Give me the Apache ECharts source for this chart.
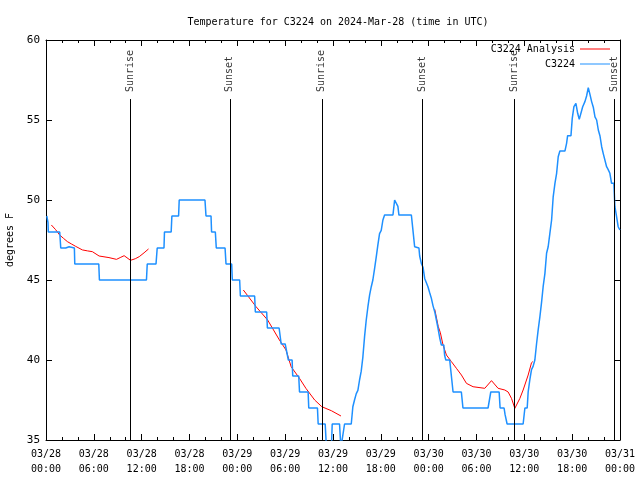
<!DOCTYPE html>
<html><head><meta charset="utf-8">
<script src="https://cdn.jsdelivr.net/npm/echarts@6/dist/echarts.min.js"></script>
<style>html,body{margin:0;padding:0;background:#fff}#c{width:640px;height:480px}</style>
</head><body><div id="c"></div>
<script>
// Station observations (hours since 03/28 00:00 UTC, degrees F)
const stationHours = [0.1,0.25,0.29,1.72,1.85,2.47,2.5,2.9,2.95,3.56,3.61,6.62,6.7,12.6,12.7,13.8,13.95,14.8,14.86,15.7,15.79,16.63,16.71,19.94,20.07,20.7,20.77,21.24,21.36,22.46,22.58,23.29,23.37,24.29,24.38,26.17,26.26,27.68,27.77,29.24,29.5,30.0,30.1,30.4,30.87,30.95,31.7,31.8,32.88,32.96,34.05,34.14,35.02,35.18,35.8,35.9,36.82,36.99,37.23,37.45,38.29,38.49,38.7,38.92,39.12,39.33,39.54,39.75,39.96,40.17,40.38,40.59,40.8,41.0,41.22,41.43,41.63,41.84,42.05,42.26,42.47,43.52,43.73,43.94,44.14,44.27,45.83,46.03,46.24,46.78,46.87,47.08,47.29,47.5,47.71,47.91,48.13,48.34,48.54,48.76,48.97,49.17,49.38,49.59,49.9,50.0,50.15,50.64,50.85,51.06,52.1,52.3,55.45,55.79,56.84,56.96,57.46,57.58,57.84,59.85,60.07,60.36,60.48,60.7,60.9,61.1,61.32,61.53,61.74,61.95,62.16,62.36,62.58,62.79,62.99,63.2,63.42,63.62,63.84,64.05,64.25,64.46,65.09,65.3,65.43,65.85,66.01,66.22,66.47,66.69,66.89,67.1,67.32,67.6,67.81,68.02,68.23,68.44,68.65,68.86,69.07,69.28,69.49,69.7,69.9,70.1,70.32,70.52,70.73,70.94,71.23,71.36,71.57,71.77,71.98];
const stationTemps = [49,48.6,48,48,47,47,47.08,47.08,47,47,46,46,45,45,46,46,47,47,48,48,49,49,50,50,49,49,48,48,47,47,46,46,45,45,44,44,43,43,42,42,41,41,40.75,40,40,39,39,38,38,37,37,36,36,34.5,34.5,36,36,34.5,34.5,36,36,37.08,37.5,37.9,38.1,38.75,39.3,40.2,41.46,42.5,43.33,44.06,44.58,45,45.73,46.46,47.2,47.9,48.1,48.75,49.06,49.06,50,50.04,49.6,49.06,49.06,48.1,47.08,47,46.5,46.04,45.8,45.1,45,44.58,44.2,43.85,43.4,43.02,42.5,42,41.4,40.94,40.94,40.3,40,40,39,38,38,37,37,38,38,37,37,36.6,36,36,37,37,38,38.8,39.4,39.6,40,41,41.9,42.7,43.6,44.58,45.4,46.67,47.08,47.9,48.75,50.2,51.04,51.67,52.7,53.06,53.06,53.54,54.02,54.02,55.1,55.83,56.04,55.42,55.04,55.04,55.83,56.15,56.5,57.02,56.6,56.15,55.8,55.2,55.0,54.375,54.0,53.33,52.9,52.8,52.08,51.9,51.67,51.04,51.04,49.58,48.96,48.33,48.125];

// Analysis (three separate runs, null = gap)
const analysisHours = [0.67,1.2,1.72,2.2,2.68,3.2,3.73,4.56,5.2,5.82,6.66,7.9,8.84,9.3,9.8,10.6,11.2,11.7,12.3,12.86,null,
  24.75,25.3,26.35,27.8,29.28,30.1,30.75,31.8,32.6,33.7,34.6,35.8,37.0,null,
  48.76,49.2,49.47,49.8,50.23,50.85,51.48,52.11,52.74,53.57,55.04,55.88,56.71,57.55,57.97,58.39,58.81,59.02,59.44,59.85,60.48,60.9,61.07];
const analysisTemps = [48.44,48.15,47.81,47.6,47.4,47.25,47.1,46.88,46.82,46.77,46.5,46.4,46.29,46.4,46.52,46.23,46.33,46.46,46.7,46.94,null,
  44.375,44.02,43.33,42.5,41.25,40.63,39.58,38.85,38.23,37.5,37.08,36.83,36.5,null,
  43.17,42.1,41.7,40.94,40.31,39.9,39.48,39.06,38.54,38.33,38.23,38.71,38.23,38.125,38.0,37.6,36.98,37.0,37.6,38.125,39.06,39.83,39.9];

// Sunrise / sunset events
const eventHours = [10.56,23.06,34.59,47.16,58.72,71.25];
const eventNames = ['Sunrise','Sunset','Sunrise','Sunset','Sunrise','Sunset'];

const xTickDays = ['03/28','03/29','03/30','03/31'];

const MONO = '"DejaVu Sans Mono", monospace';
function pad(n){return (n<10?'0':'')+n;}

const blueData = stationHours.map((h,i)=>[h, stationTemps[i]]);
const redData = analysisHours.map((h,i)=> h==null ? ['-','-'] : [h, analysisTemps[i]]);

const chart = echarts.init(document.getElementById('c'), null, {renderer:'canvas'});
const axisCommon = {
  type:'value', min:0, max:72, interval:6,
  axisLine:{show:true, onZero:false, lineStyle:{color:'#000', width:1}},
  axisTick:{show:true, inside:true, length:6, lineStyle:{color:'#000'}},
  minorTick:{show:true, splitNumber:3, length:3, lineStyle:{color:'#000'}},
  splitLine:{show:false}
};
chart.setOption({
  animation:false,
  backgroundColor:'#fff',
  title:{text:'Temperature for C3224 on 2024-Mar-28 (time in UTC)', left:333, textAlign:'center', top:12,
    textStyle:{fontFamily:MONO, fontSize:10, fontWeight:'normal', color:'#000'}},
  grid:{left:46, right:20, top:40, bottom:40, containLabel:false, outerBoundsMode:'none'},
  legend:{orient:'vertical', right:30, top:44, padding:0, align:'right', itemWidth:30, itemHeight:1, itemGap:5,
    textStyle:{fontFamily:MONO, fontSize:10, color:'#000'},
    data:[{name:'C3224 Analysis', icon:'rect'},{name:'C3224', icon:'rect'}]},
  xAxis:[
    Object.assign({}, axisCommon, {position:'bottom',
      axisLabel:{show:true, margin:7, fontFamily:MONO, fontSize:10, color:'#000', lineHeight:15,
        formatter:function(v){ const d = Math.floor(v/24); return xTickDays[d] + '\n' + pad(v%24) + ':00'; }}}),
    Object.assign({}, axisCommon, {position:'top', axisLabel:{show:false}})
  ],
  yAxis:[
    {type:'value', min:35, max:60, interval:5, position:'left',
     name:'degrees F', nameLocation:'middle', nameGap:28, nameRotate:90,
     nameTextStyle:{fontFamily:MONO, fontSize:10, color:'#000'},
     axisLine:{show:true, onZero:false, lineStyle:{color:'#000'}},
     axisTick:{show:true, inside:true, length:6, lineStyle:{color:'#000'}},
     axisLabel:{margin:6, fontFamily:MONO, fontSize:11, color:'#000'},
     splitLine:{show:false}},
    {type:'value', min:35, max:60, interval:5, position:'right',
     axisLine:{show:true, onZero:false, lineStyle:{color:'#000'}},
     axisTick:{show:true, inside:true, length:6, lineStyle:{color:'#000'}},
     axisLabel:{show:false}, splitLine:{show:false}}
  ],
  series:[
    {name:'events', type:'scatter', xAxisIndex:0, yAxisIndex:0, symbolSize:1, silent:true,
     itemStyle:{color:'rgba(0,0,0,0)'},
     data:eventHours.map((h,i)=>({value:[h,56.75], name:eventNames[i]})),
     label:{show:true, position:'inside', rotate:90, align:'left', verticalAlign:'middle',
       formatter:'{b}', fontFamily:MONO, fontSize:10, color:'#000'},
     markLine:{silent:true, symbol:'none', label:{show:false},
       lineStyle:{color:'#000', width:1, type:'solid'},
       data:eventHours.map(h=>[{coord:[h,35]},{coord:[h,56.31]}])}
    },
    {name:'C3224 Analysis', type:'line', xAxisIndex:0, yAxisIndex:0, symbol:'none', showSymbol:false,
     connectNulls:false, clip:true, color:'#ff0000', lineStyle:{color:'#ff0000', width:1}, data:redData},
    {name:'C3224', type:'line', xAxisIndex:0, yAxisIndex:0, symbol:'none', showSymbol:false,
     clip:true, color:'#1e90ff', lineStyle:{color:'#1e90ff', width:1.5}, data:blueData}
  ]
});
</script></body></html>
